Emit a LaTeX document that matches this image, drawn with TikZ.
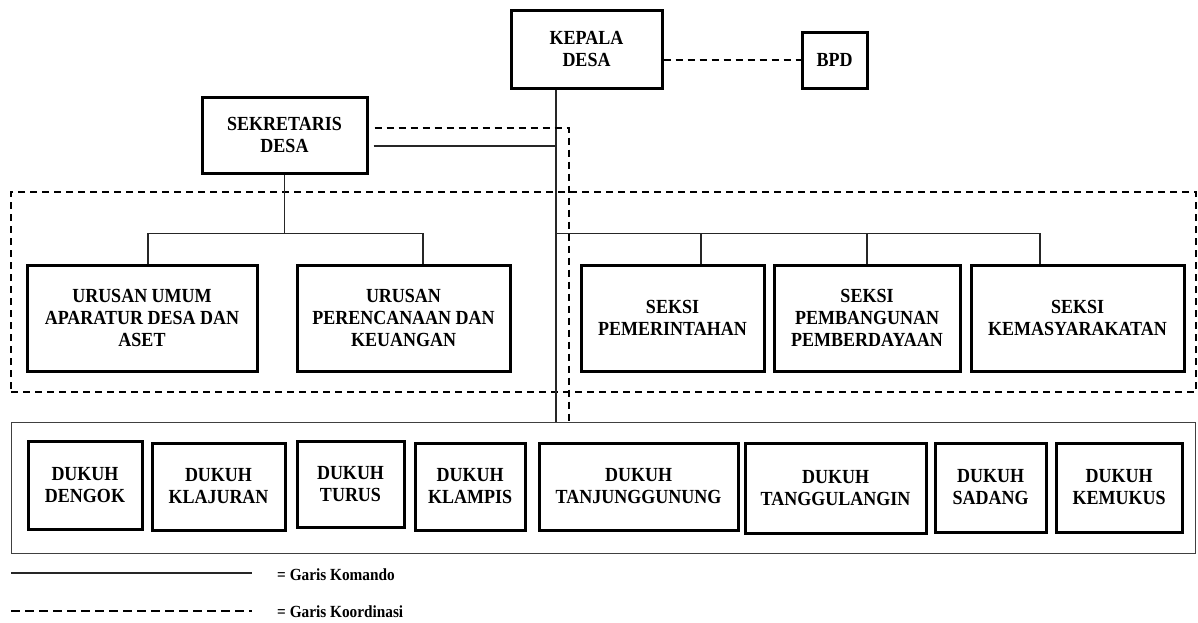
\documentclass[tikz,border=0pt]{standalone}
\usepackage{fontspec}
\setmainfont{Liberation Serif}[FakeStretch=0.9]
\begin{document}
\begin{tikzpicture}[x=1pt,y=-1pt,
    kotak/.style={draw, line width=3pt, align=center, inner sep=0pt,
      font=\bfseries\fontsize{20}{22}\selectfont},
    ukuran/.style 2 args={minimum width=#1pt, minimum height=#2pt},
    bingkai/.style={draw, inner sep=0pt},
    komando/.style={line width=1.1pt, black!85},
    koordinasi/.style={line width=1.5pt, dash pattern=on 7pt off 5pt},
    legenda/.style={anchor=west, inner sep=0pt, font=\bfseries\fontsize{17}{19}\selectfont}]
\useasboundingbox[fill=white] (0,0) rectangle (1198,622);

% pimpinan
\node[kotak, ukuran={151}{78}] (kades) at (586.5,49) {KEPALA\\DESA};
\node[kotak, ukuran={65}{56}] (bpd) at (834.5,60) {BPD};
\node[kotak, ukuran={165}{76}] (sekdes) at (284.5,135) {SEKRETARIS\\DESA};

% urusan dan seksi
\node[bingkai, koordinasi, line width=1.3pt, ukuran={1185}{200}] (perangkat) at (603.5,292) {};
\node[kotak, ukuran={230}{106}] (umum) at (142,318) {URUSAN UMUM\\APARATUR DESA DAN\\ASET};
\node[kotak, ukuran={213}{106}] (rencana) at (403.5,318) {URUSAN\\PERENCANAAN DAN\\KEUANGAN};
\node[kotak, ukuran={183}{106}] (pemerintahan) at (672.5,318) {SEKSI\\PEMERINTAHAN};
\node[kotak, ukuran={186}{106}] (pembangunan) at (867,318) {SEKSI\\PEMBANGUNAN\\PEMBERDAYAAN};
\node[kotak, ukuran={213}{106}] (masyarakat) at (1077.5,318) {SEKSI\\KEMASYARAKATAN};

% kewilayahan
\node[bingkai, line width=1pt, black!75, ukuran={1184}{131}] (wilayah) at (603,487.5) {};
\node[kotak, ukuran={114}{88}] (dengok) at (85,485) {DUKUH\\DENGOK};
\node[kotak, ukuran={133}{87}] (klajuran) at (218.5,486.5) {DUKUH\\KLAJURAN};
\node[kotak, ukuran={107}{86}] (turus) at (350.5,484) {DUKUH\\TURUS};
\node[kotak, ukuran={110}{87}] (klampis) at (470,486.5) {DUKUH\\KLAMPIS};
\node[kotak, ukuran={199}{87}] (tanjung) at (638.5,486.5) {DUKUH\\TANJUNGGUNUNG};
\node[kotak, ukuran={181}{90}] (tanggul) at (835.5,488) {DUKUH\\TANGGULANGIN};
\node[kotak, ukuran={111}{89}] (sadang) at (990.5,487.5) {DUKUH\\SADANG};
\node[kotak, ukuran={126}{89}] (kemukus) at (1119,487.5) {DUKUH\\KEMUKUS};

% garis komando
\coordinate (tengah) at ([xshift=-30.5pt]kades.south);
\draw[komando] (tengah) -- (tengah |- wilayah.north);
\draw[komando] ([xshift=5pt,yshift=-11pt]sekdes.east) coordinate (s1) -- (s1 -| tengah);
\draw[komando] (sekdes.south) -- ++(0,59) coordinate (cabang);
\draw[komando] ([xshift=6pt]umum.north) -- ([xshift=6pt]umum.north |- cabang)
  -- ([xshift=19.5pt]rencana.north |- cabang) -- ([xshift=19.5pt]rencana.north);
\draw[komando] (tengah |- cabang) -- ([xshift=-37.5pt]masyarakat.north |- cabang)
  -- ([xshift=-37.5pt]masyarakat.north);
\draw[komando] ([xshift=28.5pt]pemerintahan.north) -- ([xshift=28.5pt]pemerintahan.north |- cabang);
\draw[komando] (pembangunan.north) -- (pembangunan.north |- cabang);

% garis koordinasi
\draw[koordinasi] (kades.east |- bpd.west) -- (bpd.west);
\draw[koordinasi] ([xshift=6pt,yshift=7pt]sekdes.east) -| ([xshift=13pt]tengah |- wilayah.north);

% keterangan
\coordinate (k1) at (11,573);
\coordinate (k2) at (11,611);
\draw[komando] (k1) -- ++(241,0);
\draw[line width=2pt, dash pattern=on 9pt off 5pt] (k2) -- ++(241,0);
\node[legenda] (lkomando) at (277,575) {= Garis Komando};
\node[legenda] (lkoordinasi) at (277,612) {= Garis Koordinasi};
\end{tikzpicture}
\end{document}
